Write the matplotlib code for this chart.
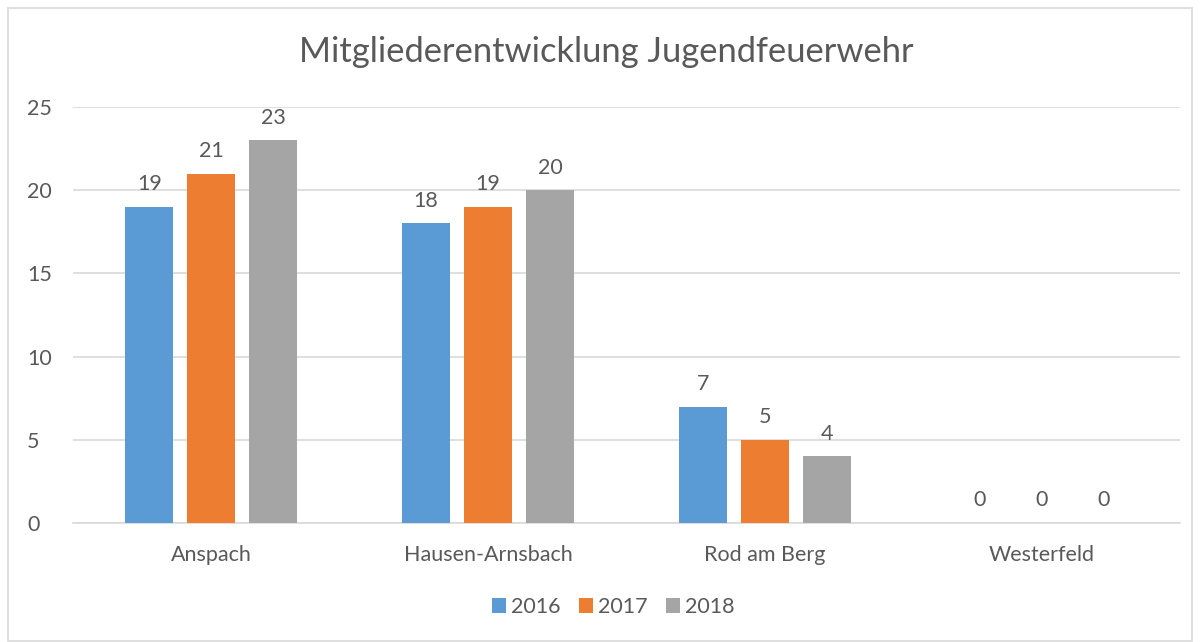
import matplotlib.pyplot as plt
import numpy as np
from matplotlib.patches import Rectangle

categories = ["Anspach", "Hausen-Arnsbach", "Rod am Berg", "Westerfeld"]
years = ["2016", "2017", "2018"]
v2016 = [19, 18, 7, 0]
v2017 = [21, 19, 5, 0]
v2018 = [23, 20, 4, 0]
colors = ["#5B9BD5", "#ED7D31", "#A5A5A5"]

plt.rcParams['font.family'] = ['Lato', 'DejaVu Sans']
txt = "#595959"
fs = 15.5

fig = plt.figure(figsize=(12, 6.42), dpi=100)
# chart border
fig.patches.append(Rectangle((8 / 1200, 0.002), 1184 / 1200, 1 - 8 / 642 - 0.002,
                             transform=fig.transFigure, fill=False,
                             edgecolor="#d9d9d9", linewidth=1.2))

ax = fig.add_axes([73 / 1200, 1 - 523 / 642, 1107 / 1200, 416 / 642])
x = np.arange(len(categories))
w = 48 / 276.75
step = 62 / 276.75
for i, (vals, c, yr) in enumerate(zip([v2016, v2017, v2018], colors, years)):
    pos = x + (i - 1) * step
    ax.bar(pos, vals, width=w, color=c, label=yr, zorder=3)
    for p, v in zip(pos, vals):
        ax.annotate(str(v), (p, v), xytext=(0, 9), textcoords="offset points",
                    ha="center", va="bottom", fontsize=fs, color=txt)

ax.set_xlim(-0.5, len(categories) - 0.5)
ax.set_ylim(0, 25)
ax.set_yticks(range(0, 26, 5))
ax.grid(axis="y", color="#d9d9d9", linewidth=1.2, zorder=0)
for s in ["top", "right", "left"]:
    ax.spines[s].set_visible(False)
ax.spines["bottom"].set_color("#d9d9d9")
ax.spines["bottom"].set_linewidth(1.2)
ax.tick_params(axis="both", length=0, labelsize=fs, labelcolor=txt)
ax.tick_params(axis="y", pad=33)
ax.tick_params(axis="x", pad=16)
ax.set_xticks(x)
ax.set_xticklabels(categories)
for lab in ax.get_yticklabels():
    lab.set_horizontalalignment("left")

fig.text(0.505, 1 - 52 / 642, "Mitgliederentwicklung Jugendfeuerwehr", ha="center",
         va="center", fontsize=24.8, color=txt)

fig.legend(loc="center", bbox_to_anchor=(0.511, 1 - 607 / 642), ncol=3, frameon=False,
           fontsize=fs, labelcolor=txt, handlelength=0.65, handleheight=0.65,
           handletextpad=0.25, columnspacing=0.85)

plt.savefig("out.png", dpi=100)
